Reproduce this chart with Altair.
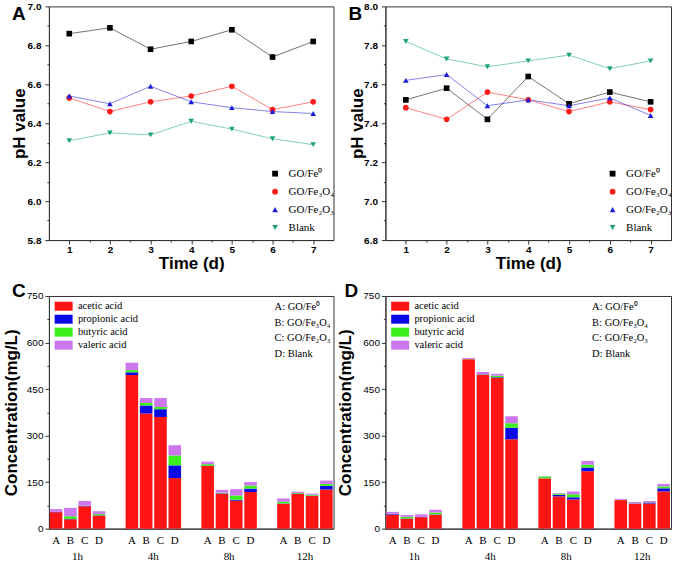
import altair as alt
import pandas as pd

# ---------------- data ----------------
days = [1, 2, 3, 4, 5, 6, 7]
series = ["GO/Fe⁰", "GO/Fe₃O₄", "GO/Fe₂O₃", "Blank"]
series_colors = ["#000000", "#ff1a1a", "#1c1cd6", "#1fa37c"]
series_shapes = ["square", "circle", "triangle-up", "triangle-down"]

# panel A (pH)
a_fe0 = [6.86, 6.89, 6.78, 6.82, 6.88, 6.74, 6.82]
a_fe3o4 = [6.53, 6.46, 6.51, 6.54, 6.59, 6.47, 6.51]
a_fe2o3 = [6.54, 6.50, 6.59, 6.51, 6.48, 6.46, 6.45]
a_blank = [6.31, 6.35, 6.34, 6.41, 6.37, 6.32, 6.29]

# panel B (pH)
b_fe0 = [7.52, 7.58, 7.42, 7.64, 7.50, 7.56, 7.51]
b_fe3o4 = [7.48, 7.42, 7.56, 7.52, 7.46, 7.51, 7.47]
b_fe2o3 = [7.62, 7.65, 7.49, 7.52, 7.49, 7.53, 7.44]
b_blank = [7.82, 7.73, 7.69, 7.72, 7.75, 7.68, 7.72]

times = ["1h", "4h", "8h", "12h"]
conds = ["A", "B", "C", "D"]
acids = ["acetic acid", "propionic acid", "butyric acid", "valeric acid"]
acid_colors = ["#ff1414", "#0a0ae6", "#3cf01e", "#cc77ee"]

# panel C (order: 1h A-D, 4h A-D, 8h A-D, 12h A-D)
c_acetic = [53, 30, 72, 42, 495, 371, 360, 163, 202, 113, 90, 118, 80, 112, 105, 126]
c_propionic = [1, 1, 1, 1, 9, 26, 25, 41, 1, 1, 3, 11, 1, 1, 1, 12]
c_butyric = [0, 9, 1, 4, 7, 8, 7, 32, 5, 2, 14, 10, 6, 2, 3, 6]
c_valeric = [9, 27, 15, 9, 24, 16, 29, 33, 8, 9, 20, 11, 10, 4, 4, 11]

# panel D
d_acetic = [45, 32, 37, 45, 546, 496, 486, 288, 162, 104, 94, 185, 92, 80, 81, 120]
d_propionic = [2, 1, 1, 1, 0, 1, 2, 37, 0, 5, 7, 12, 0, 1, 3, 10]
d_butyric = [1, 5, 0, 6, 1, 1, 5, 15, 6, 4, 10, 9, 1, 1, 1, 6]
d_valeric = [6, 6, 8, 9, 3, 7, 6, 22, 1, 2, 9, 12, 3, 4, 4, 8]

key_lines = ["A: GO/Fe⁰", "B: GO/Fe₃O₄", "C: GO/Fe₂O₃", "D: Blank"]

SANS = "Liberation Sans"
SERIF = "Liberation Serif"
W_L, W_R = 285, 286
H_T, H_B = 234, 233


def panel_label(letter, x, y):
    return alt.Chart(pd.DataFrame({"t": [letter]})).mark_text(
        font=SANS, fontSize=19, fontWeight="bold", align="left", baseline="middle"
    ).encode(x=alt.value(x), y=alt.value(y), text="t:N")


def ph_panel(vals, ymin, ymax, letter, width, title_pad, leg_x):
    rows = []
    for name, v in zip(series, vals):
        for d, p in zip(days, v):
            rows.append({"day": d, "ph": p, "series": name})
    df = pd.DataFrame(rows)
    n = int(round((ymax - ymin) * 10))
    yticks = [round(ymin + 0.1 * i, 1) for i in range(n + 1)]
    xticks = [1 + 0.5 * i for i in range(13)]
    x = alt.X("day:Q", scale=alt.Scale(domain=[0.5, 7.5], nice=False, zero=False),
              axis=alt.Axis(values=xticks,
                            labelExpr="datum.value % 1 == 0 ? format(datum.value, 'd') : ''",
                            tickSize={"condition": {"test": "datum.value % 1 == 0", "value": 4}, "value": 2},
                            labelFontWeight="bold", labelFontSize=10, labelPadding=0,
                            title="Time (d)", titleFontSize=17, titleFontWeight="bold",
                            titlePadding=1, labelOverlap=False, labelFlush=False))
    y = alt.Y("ph:Q", scale=alt.Scale(domain=[ymin, ymax], nice=False, zero=False),
              axis=alt.Axis(values=yticks,
                            labelExpr="round(datum.value*10) % 2 == 0 ? format(datum.value, '.1f') : ''",
                            tickSize={"condition": {"test": "round(datum.value*10) % 2 == 0", "value": 4}, "value": 2},
                            labelFontWeight="bold", labelFontSize=10, labelPadding=4,
                            title="pH value", titleFontSize=17, titleFontWeight="bold",
                            titlePadding=title_pad, labelOverlap=False, labelFlush=False))
    cscale = alt.Scale(domain=series, range=series_colors)
    sscale = alt.Scale(domain=series, range=series_shapes)
    leg = alt.Legend(title=None, orient="none", legendX=leg_x, legendY=162, padding=0,
                     labelFont=SERIF, labelFontSize=11, symbolSize=34, rowPadding=6,
                     labelOffset=8, symbolStrokeWidth=0)
    layers = []
    for name, col in zip(series, series_colors):
        layers.append(
            alt.Chart(df).transform_filter(alt.datum.series == name)
            .mark_line(strokeWidth=1, opacity=0.55, color=col)
            .encode(x=x, y=y)
        )
    pts = alt.Chart(df).mark_point(filled=True, size=32, opacity=1).encode(
        x=x, y=y,
        color=alt.Color("series:N", scale=cscale, legend=leg),
        shape=alt.Shape("series:N", scale=sscale, legend=leg))
    layers.append(pts)
    layers.append(panel_label(letter, -37, 8))
    return alt.layer(*layers).properties(width=width, height=H_T)


def bar_panel(acet, prop, buty, vale, letter, width, title_pad, key_x, lab_x):
    rows = []
    letters_rows = []
    i = 0
    for t in times:
        for c in conds:
            for k, (a, v) in enumerate(zip(acids, [acet[i], prop[i], buty[i], vale[i]])):
                rows.append({"time": t, "cond": c, "acid": a, "value": v, "k": k})
            letters_rows.append({"time": t, "cond": c})
            i += 1
    df = pd.DataFrame(rows)
    dfl = pd.DataFrame(letters_rows)
    x = alt.X("time:N", sort=times, scale=alt.Scale(paddingInner=0.245, paddingOuter=0),
              axis=alt.Axis(title=None, ticks=False, labelPadding=22, labelFont=SERIF,
                            labelFontSize=11, labelAngle=0))
    xo = alt.XOffset("cond:N", sort=conds, scale=alt.Scale(paddingInner=0.12, paddingOuter=0.06))
    yticks = [75 * i for i in range(11)]
    y = alt.Y("value:Q", stack="zero", scale=alt.Scale(domain=[0, 750], nice=False),
              axis=alt.Axis(values=yticks,
                            labelExpr="datum.value % 150 == 0 ? format(datum.value, 'd') : ''",
                            tickSize={"condition": {"test": "datum.value % 150 == 0", "value": 4}, "value": 2},
                            labelFontSize=10, labelPadding=2,
                            title="Concentration(mg/L)", titleFontSize=17, titleFontWeight="bold",
                            titlePadding=title_pad, labelOverlap=False, labelFlush=False))
    leg = alt.Legend(title=None, orient="none", legendX=9.5, legendY=5, padding=0,
                     labelFont=SERIF, labelFontSize=10.5, symbolType="M-2,-1H2V1H-2Z",
                     symbolSize=81, rowPadding=2, labelOffset=9, symbolStrokeWidth=0)
    bars = alt.Chart(df).mark_bar().encode(
        x=x, xOffset=xo, y=y,
        color=alt.Color("acid:N", scale=alt.Scale(domain=acids, range=acid_colors), legend=leg),
        order=alt.Order("k:Q", sort="ascending"))
    letters = alt.Chart(dfl).mark_text(font=SERIF, fontSize=11, baseline="middle").encode(
        x=x, xOffset=xo, y=alt.value(H_B + 12), text="cond:N")
    key = alt.Chart(pd.DataFrame({"t": ["\n".join(key_lines)]})).mark_text(
        font=SERIF, fontSize=10.5, align="left", baseline="top", lineBreak="\n", lineHeight=15.7
    ).encode(x=alt.value(key_x), y=alt.value(6), text="t:N")
    return alt.layer(bars, letters, key, panel_label(letter, lab_x, -5)).properties(width=width, height=H_B)


pA = ph_panel([a_fe0, a_fe3o4, a_fe2o3, a_blank], 5.8, 7.0, "A", W_L, -1, 221)
pB = ph_panel([b_fe0, b_fe3o4, b_fe2o3, b_blank], 6.8, 8.0, "B", W_R, -3, 222)
pC = bar_panel(c_acetic, c_propionic, c_butyric, c_valeric, "C", W_L, 6, 226, -37)
pD = bar_panel(d_acetic, d_propionic, d_butyric, d_valeric, "D", W_R, 8, 207, -41)

chart = alt.concat(
    pA, pB, pC, pD, columns=2, bounds="flush", spacing={"row": 56, "column": 52}
).resolve_scale(
    color="independent", shape="independent",
    x="independent", y="independent"
).resolve_legend(
    color="independent", shape="independent"
).properties(
    padding={"left": 1, "top": 0, "right": 3, "bottom": 0}, background="white"
).configure_view(
    stroke="#333333", strokeWidth=1
).configure_axis(
    labelFont=SANS, titleFont=SANS, domainColor="#333333", tickColor="#333333",
    labelColor="#000000", titleColor="#000000", grid=False
)

chart.save("out.html", embed_options={"renderer": "svg", "actions": False})
